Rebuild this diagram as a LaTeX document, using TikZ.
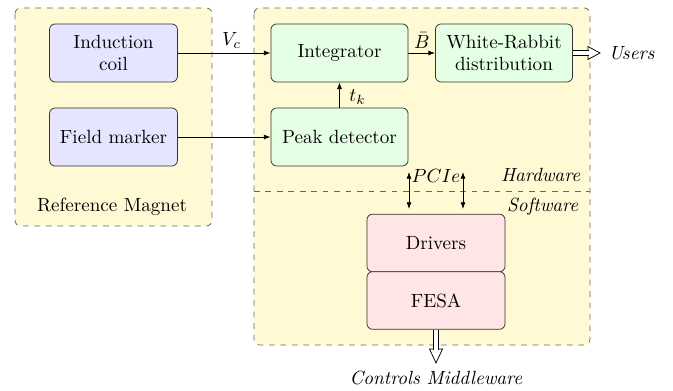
\documentclass[tikz,border=0pt]{standalone}
\usetikzlibrary{arrows.meta,calc}
\definecolor{grpfill}{RGB}{255,249,212}
\begin{document}
\begin{tikzpicture}[x=0.5236pt,y=-0.5236pt,
  blk/.style={draw=black!80,rounded corners=3pt,align=center,inner sep=2pt},
  bluebox/.style={blk,fill=blue!10,minimum width=67pt,minimum height=30.4pt},
  greenbox/.style={blk,fill=green!10,minimum width=71.8pt,minimum height=30.4pt},
  redbox/.style={blk,fill=red!10,minimum width=72.3pt,minimum height=30.2pt},
  group/.style={draw=black!60,dashed,fill=grpfill,rounded corners=3pt},
  sig/.style={-{Latex[length=3.5pt,width=2.6pt]},black},
  bidir/.style={{Latex[length=3.5pt,width=2.6pt]}-{Latex[length=3.5pt,width=2.6pt]},black},
  fatshaft/.style={double=white,double distance=2.2pt,black},
  fathead/.style={draw=black,fill=white,line join=miter}]
\useasboundingbox (0,0) rectangle (673,391);
% groups
\draw[group] (15,8) rectangle (212,226);
\draw[group] (254,8) rectangle (590,345);
\draw[dashed,black!60] (254,191) -- (590,191);
% boxes
\node[bluebox] (coil) at (113.5,53) {Induction\\coil};
\node[bluebox] (marker) at (113.5,137) {Field marker};
\node[greenbox] (integ) at (339.5,53) {Integrator};
\node[greenbox] (wr) at (504,53) {White-Rabbit\\distribution};
\node[greenbox] (peak) at (339.5,137) {Peak detector};
\node[redbox] (drv) at (436,243) {Drivers};
\node[redbox] (fesa) at (436,300.5) {FESA};
% labels
\node (refm) at (112,207) {Reference Magnet};
\node[anchor=east] (hw) at (587,175) {\textit{Hardware}};
\node[anchor=east] (sw) at (585,207) {\textit{Software}};
\node[anchor=west] (users) at (602,53) {\textit{Users}};
\node (cm) at (436,378) {\textit{Controls Middleware}};
% connectors
\draw[sig] (coil.east) -- node[above,pos=0.58,inner sep=2pt] (vc) {$V_c$} (integ.west);
\draw[sig] (marker.east) -- (peak.west);
\draw[sig] (integ.east) -- node[above,inner sep=2pt] (bb) {$\bar{B}$} (wr.west);
\draw[sig] (peak.north) -- node[right,inner sep=5pt,yshift=-1pt] (tk) {$t_k$} (integ.south);
\coordinate (p1t) at (409,172);
\coordinate (p1b) at (409,209);
\coordinate (p2t) at (463,172);
\coordinate (p2b) at (463,209);
\draw[bidir] (p1t) -- (p1b);
\draw[bidir] (p2t) -- (p2b);
\node (pcie) at (436,176) {$PCIe$};
% hollow arrow to Users
\coordinate (uend) at (600,53);
\coordinate (ubase) at (588,53);
\draw[fathead] ($(ubase)+(0,-6.5)$) -- (uend) -- ($(ubase)+(0,6.5)$) -- cycle;
\draw[fatshaft] (wr.east) -- ($(ubase)+(1,0)$);
% hollow arrow to Controls Middleware
\coordinate (cmend) at (436,363);
\coordinate (cmbase) at (436,349);
\draw[fathead] ($(cmbase)+(-6.5,0)$) -- (cmend) -- ($(cmbase)+(6.5,0)$) -- cycle;
\draw[fatshaft] (fesa.south) -- ($(cmbase)+(0,1)$);
\end{tikzpicture}
\end{document}
